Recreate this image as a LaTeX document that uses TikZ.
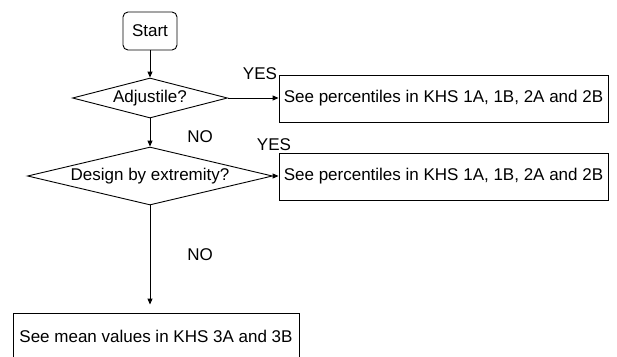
\documentclass[tikz,border=0pt]{standalone}
\usepackage{fontspec}
\setmainfont{Liberation Sans}
\usetikzlibrary{positioning,shapes.geometric,arrows.meta}

\tikzset{
  flow/.style={font=\fontsize{17}{20}\selectfont, line width=.9pt},
  startbox/.style={draw, rounded corners=5pt, minimum width=54pt, minimum height=38pt, inner sep=0pt},
  ask/.style={draw, diamond, inner sep=0pt},
  outbox/.style={draw, rectangle, inner sep=0pt},
  lbl/.style={inner sep=0pt},
  arr/.style={-{Triangle[length=6pt,width=5pt]}}
}

\begin{document}
\begin{tikzpicture}[x=1pt,y=-1pt,flow]
  \useasboundingbox (0,0) rectangle (617,356);

  \node[startbox] at(150,31)(start){Start};

  \node[ask, minimum width=155pt, minimum height=40pt, aspect=3.9] at(150,98)(adj){Adjustile?};
  \node[ask, minimum width=245pt, minimum height=58pt, aspect=4.2] at(150,176)(ext){Design by extremity?};

  \node[outbox, minimum width=329pt, minimum height=47pt] at(443.5,98.5)(pct1){See percentiles in KHS 1A, 1B, 2A and 2B};
  \node[outbox, minimum width=329pt, minimum height=47pt] at(443.5,176.5)(pct2){See percentiles in KHS 1A, 1B, 2A and 2B};
  \node[outbox, minimum width=286pt, minimum height=46pt] at(156,336)(mean){See mean values in KHS 3A and 3B};

  \node[lbl] at(260,74)(yes1){YES};
  \node[lbl] at(274,145)(yes2){YES};
  \node[lbl] at(200,137)(no1){NO};
  \node[lbl] at(200,255)(no2){NO};

  \draw[arr](start) -- (adj);
  \draw[arr](adj) -- (pct1.west |- adj.east);
  \draw[arr](adj) -- (ext);
  \draw[arr](ext) -- (pct2.west |- ext.east);
  \draw[arr, shorten >=8pt](ext.south) -- (ext.south |- mean.north);

\end{tikzpicture}
\end{document}
